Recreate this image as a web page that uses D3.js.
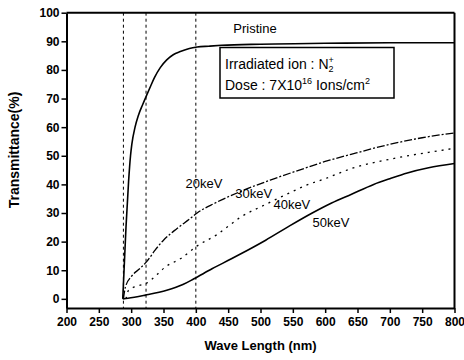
<!DOCTYPE html>
<html>
<head>
<meta charset="utf-8">
<script src="https://cdn.jsdelivr.net/npm/d3@7"></script>
<style>
  body { margin: 0; background: #fff; }
  text { font-family: "Liberation Sans", Arial, sans-serif; fill: #000; }
</style>
</head>
<body>
<div id="trans_chart"></div>
<script>

// Data

var waveTicks = [200, 250, 300, 350, 400, 450, 500, 550, 600, 650, 700, 750, 800];
var transTicks = [0, 10, 20, 30, 40, 50, 60, 70, 80, 90, 100];

// vertical guide lines (absorption edges)
var edgeNm = [288, 323, 400];

// Pristine film
var pristineNm = [287, 289, 292, 296, 299, 301, 306, 311, 318, 324, 330, 336, 345, 355, 365, 376, 390, 402, 420, 440, 500, 600, 700, 800];
var pristineT  = [0, 10, 25, 41, 50, 54, 60, 64, 68, 71.2, 74.3, 77.3, 80.8, 83.5, 85.3, 86.4, 87.5, 88, 88.3, 88.6, 89, 89.3, 89.5, 89.5];

// 20 keV (top, dashed)
var kev20Nm = [288, 291, 301, 313, 324, 337, 350, 371, 391, 402, 430, 469, 515, 560, 600, 640, 700, 750, 800];
var kev20T  = [0, 4, 8, 10.5, 13, 17, 20.5, 24.6, 28, 30, 33.5, 37.5, 41.5, 45, 48, 50.5, 54, 56.3, 58];

// 40 keV (middle, dotted)
var kev40Nm = [292, 296, 310, 324, 340, 352, 376, 402, 433, 448, 469, 508, 540, 572, 600, 640, 707, 760, 800];
var kev40T  = [0, 3, 4.5, 5.5, 8.5, 11, 14, 18.5, 22.5, 25, 28.5, 33, 36.5, 39.8, 42, 45.5, 49.1, 51.2, 52.6];

// 50 keV (bottom, solid)
var kev50Nm = [287, 295, 322, 355, 380, 397, 425, 455, 480, 508, 545, 580, 610, 640, 675, 700, 727, 760, 800];
var kev50T  = [0, 0.2, 1.3, 3, 5, 7, 10.5, 14, 17, 20.5, 25.5, 30, 33.5, 36.5, 40, 42, 44, 45.8, 47.3];

var energyLabels = ["20keV", "30keV", "40keV", "50keV"];


//  Prototype TransChart

function TransChart(){
    this.w = 464;
    this.h = 360;
    this.series = new Array();
}

TransChart.prototype.addSeries = function(nm, t, dash, width){
    var pts = new Array();
    for(var i = 0; i < nm.length; i++){
        pts.push({nm: nm[i], t: t[i]});
    }
    this.series.push({pts: pts, dash: dash, width: width});
};

TransChart.prototype.draw = function(){

    var svg = d3.select("#trans_chart")
        .append("svg")
        .attr("width", this.w)
        .attr("height", this.h);

    var x = d3.scaleLinear().domain([200, 800]).range([66.5, 454.5]);
    var y = d3.scaleLinear().domain([-3.2, 100]).range([308, 12.7]);

    // vertical dashed guide lines
    svg.selectAll(".edge")
        .data(edgeNm)
        .enter()
        .append("line")
        .attr("x1", function(d){ return x(d); })
        .attr("x2", function(d){ return x(d); })
        .attr("y1", y(100))
        .attr("y2", y(-3.2))
        .attr("stroke", "#000")
        .attr("stroke-width", 1)
        .attr("stroke-dasharray", "3,3");

    var line = d3.line()
        .x(function(d){ return x(d.nm); })
        .y(function(d){ return y(d.t); })
        .curve(d3.curveMonotoneX);

    svg.selectAll(".curve")
        .data(this.series)
        .enter()
        .append("path")
        .attr("d", function(d){ return line(d.pts); })
        .attr("fill", "none")
        .attr("stroke", "#000")
        .attr("stroke-width", function(d){ return d.width; })
        .attr("stroke-dasharray", function(d){ return d.dash; });

    // Axes
    var xAxis = d3.axisBottom(x).tickValues(waveTicks).tickSize(5).tickPadding(4).tickSizeOuter(0);
    var yAxis = d3.axisLeft(y).tickValues(transTicks).tickSize(5).tickPadding(2).tickSizeOuter(0);

    var gx = svg.append("g")
        .attr("transform", "translate(0," + y(-3.2) + ")")
        .call(xAxis);
    var gy = svg.append("g")
        .attr("transform", "translate(" + x(200) + ",0)")
        .call(yAxis);

    [gx, gy].forEach(function(g){
        g.selectAll("path").attr("stroke", "#000").attr("stroke-width", 2);
        g.selectAll("line").attr("stroke", "#000").attr("stroke-width", 1.5);
        g.selectAll("text")
            .attr("fill", "#000")
            .style("font-family", "'Liberation Sans', Arial, sans-serif")
            .style("font-size", "12px")
            .style("font-weight", "bold");
    });

    // top and right frame
    svg.append("line")
        .attr("x1", x(200)).attr("x2", x(800))
        .attr("y1", y(100)).attr("y2", y(100))
        .attr("stroke", "#000").attr("stroke-width", 2);
    svg.append("line")
        .attr("x1", x(800)).attr("x2", x(800))
        .attr("y1", y(100)).attr("y2", y(-3.2))
        .attr("stroke", "#000").attr("stroke-width", 2);

    // Axis titles
    svg.append("text")
        .attr("x", (x(200) + x(800)) / 2)
        .attr("y", 350)
        .attr("text-anchor", "middle")
        .style("font-size", "13px")
        .style("font-weight", "bold")
        .text("Wave Length (nm)");

    svg.append("text")
        .attr("transform", "translate(19,150) rotate(-90)")
        .attr("text-anchor", "middle")
        .style("font-size", "14px")
        .style("font-weight", "bold")
        .text("Transmittance(%)");

    // Curve labels
    svg.append("text")
        .attr("x", x(458)).attr("y", y(92.9))
        .style("font-size", "13px")
        .text("Pristine");

    var labelAt = [[384, 38.7], [461, 35.2], [520, 31.5], [580.6, 25.1]];
    svg.selectAll(".elabel")
        .data(energyLabels)
        .enter()
        .append("text")
        .attr("x", function(d, i){ return x(labelAt[i][0]); })
        .attr("y", function(d, i){ return y(labelAt[i][1]); })
        .style("font-size", "13px")
        .text(function(d){ return d; });

    // Info box
    svg.append("rect")
        .attr("x", 220).attr("y", 47.5)
        .attr("width", 174).attr("height", 50.5)
        .attr("fill", "#fff")
        .attr("stroke", "#000")
        .attr("stroke-width", 1.5);

    var t1 = svg.append("text")
        .attr("x", 225).attr("y", 69)
        .style("font-size", "14px");
    t1.append("tspan").text("Irradiated ion : N");
    t1.append("tspan").attr("dy", 3).style("font-size", "9px").text("2");
    t1.append("tspan").attr("dx", -5).attr("dy", -9).style("font-size", "9px").text("+");

    var t2 = svg.append("text")
        .attr("x", 225).attr("y", 90)
        .style("font-size", "14px");
    t2.append("tspan").text("Dose : 7X10");
    t2.append("tspan").attr("dy", -6).style("font-size", "9px").text("16");
    t2.append("tspan").attr("dy", 6).text(" Ions/cm");
    t2.append("tspan").attr("dy", -6).style("font-size", "9px").text("2");
};

var chart = new TransChart();
chart.addSeries(pristineNm, pristineT, null, 1.6);
chart.addSeries(kev20Nm, kev20T, "8,2,2,2", 1.3);
chart.addSeries(kev40Nm, kev40T, "2,5", 1.3);
chart.addSeries(kev50Nm, kev50T, null, 1.6);
chart.draw();

</script>
</body>
</html>
